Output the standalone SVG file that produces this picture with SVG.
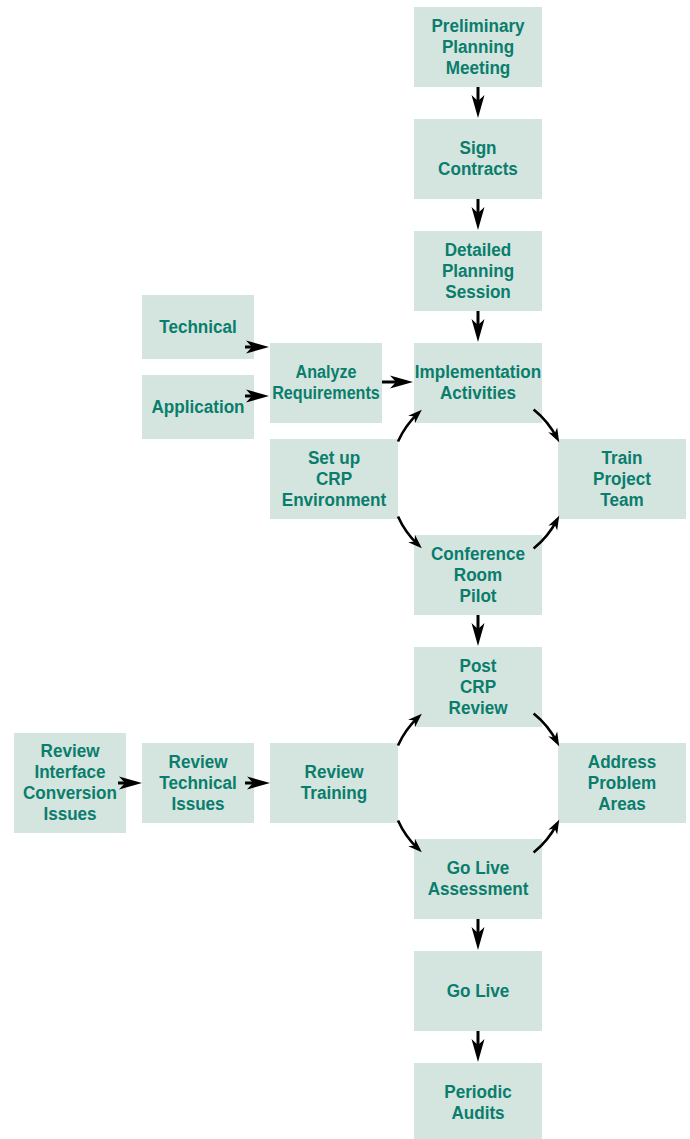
<svg xmlns="http://www.w3.org/2000/svg" width="690" height="1139" viewBox="0 0 690 1139">
<style>
.b{fill:#d4e5df;stroke:none}
.t{font-family:"Liberation Sans",Arial,sans-serif;font-weight:bold;font-size:19px;fill:#0a7d6c;text-anchor:middle}
.s{fill:none;stroke:#000;stroke-width:3}
.c{fill:none;stroke:#000;stroke-width:2.6}
</style>
<defs>
<marker id="ah" markerUnits="userSpaceOnUse" markerWidth="24" markerHeight="14" viewBox="0 0 24 14" refX="10" refY="7" orient="auto">
<path d="M0,0.5 L23,7 L0,13.5 L6,7 z" fill="#000"/>
</marker>
<marker id="ac" markerUnits="userSpaceOnUse" markerWidth="15" markerHeight="11" viewBox="0 0 15 11" refX="9" refY="5.5" orient="auto">
<path d="M0,0.5 L14,5.5 L0,10.5 L4,5.5 z" fill="#000"/>
</marker>
</defs>
<g id="n1"><rect class="b" x="414" y="7" width="128" height="80"/><text class="t" transform="translate(478,0) scale(0.9,1)"><tspan x="0" y="32">Preliminary</tspan><tspan x="0" y="53">Planning</tspan><tspan x="0" y="74">Meeting</tspan></text></g>
<g id="n2"><rect class="b" x="414" y="119" width="128" height="80"/><text class="t" transform="translate(478,0) scale(0.9,1)"><tspan x="0" y="154.5">Sign</tspan><tspan x="0" y="175.5">Contracts</tspan></text></g>
<g id="n3"><rect class="b" x="414" y="231" width="128" height="80"/><text class="t" transform="translate(478,0) scale(0.9,1)"><tspan x="0" y="256">Detailed</tspan><tspan x="0" y="277">Planning</tspan><tspan x="0" y="298">Session</tspan></text></g>
<g id="n4"><rect class="b" x="414" y="343" width="128" height="80"/><text class="t" transform="translate(478,0) scale(0.9,1)"><tspan x="0" y="378.5">Implementation</tspan><tspan x="0" y="399.5">Activities</tspan></text></g>
<g id="n5"><rect class="b" x="558" y="439" width="128" height="80"/><text class="t" transform="translate(622,0) scale(0.9,1)"><tspan x="0" y="464">Train</tspan><tspan x="0" y="485">Project</tspan><tspan x="0" y="506">Team</tspan></text></g>
<g id="n6"><rect class="b" x="270" y="439" width="128" height="80"/><text class="t" transform="translate(334,0) scale(0.9,1)"><tspan x="0" y="464">Set up</tspan><tspan x="0" y="485">CRP</tspan><tspan x="0" y="506">Environment</tspan></text></g>
<g id="n7"><rect class="b" x="414" y="535" width="128" height="80"/><text class="t" transform="translate(478,0) scale(0.9,1)"><tspan x="0" y="560">Conference</tspan><tspan x="0" y="581">Room</tspan><tspan x="0" y="602">Pilot</tspan></text></g>
<g id="n8"><rect class="b" x="414" y="647" width="128" height="80"/><text class="t" transform="translate(478,0) scale(0.9,1)"><tspan x="0" y="672">Post</tspan><tspan x="0" y="693">CRP</tspan><tspan x="0" y="714">Review</tspan></text></g>
<g id="n9"><rect class="b" x="558" y="743" width="128" height="80"/><text class="t" transform="translate(622,0) scale(0.9,1)"><tspan x="0" y="768">Address</tspan><tspan x="0" y="789">Problem</tspan><tspan x="0" y="810">Areas</tspan></text></g>
<g id="n10"><rect class="b" x="270" y="743" width="128" height="80"/><text class="t" transform="translate(334,0) scale(0.9,1)"><tspan x="0" y="778.5">Review</tspan><tspan x="0" y="799.5">Training</tspan></text></g>
<g id="n11"><rect class="b" x="414" y="839" width="128" height="80"/><text class="t" transform="translate(478,0) scale(0.9,1)"><tspan x="0" y="874.5">Go Live</tspan><tspan x="0" y="895.5">Assessment</tspan></text></g>
<g id="n12"><rect class="b" x="414" y="951" width="128" height="80"/><text class="t" transform="translate(478,0) scale(0.9,1)"><tspan x="0" y="997">Go Live</tspan></text></g>
<g id="n13"><rect class="b" x="414" y="1063" width="128" height="80"/><text class="t" transform="translate(478,0) scale(0.9,1)"><tspan x="0" y="1098.5">Periodic</tspan><tspan x="0" y="1119.5">Audits</tspan></text></g>
<g id="n14"><rect class="b" x="142" y="295" width="112" height="64"/><text class="t" transform="translate(198,0) scale(0.9,1)"><tspan x="0" y="333">Technical</tspan></text></g>
<g id="n15"><rect class="b" x="142" y="375" width="112" height="64"/><text class="t" transform="translate(198,0) scale(0.9,1)"><tspan x="0" y="413">Application</tspan></text></g>
<g id="n16"><rect class="b" x="270" y="343" width="112" height="80"/><text class="t" transform="translate(326,0) scale(0.85,1)"><tspan x="0" y="378.5">Analyze</tspan><tspan x="0" y="399.5">Requirements</tspan></text></g>
<g id="n17"><rect class="b" x="142" y="743" width="112" height="80"/><text class="t" transform="translate(198,0) scale(0.9,1)"><tspan x="0" y="768">Review</tspan><tspan x="0" y="789">Technical</tspan><tspan x="0" y="810">Issues</tspan></text></g>
<g id="n18"><rect class="b" x="14" y="733" width="112" height="100"/><text class="t" transform="translate(70,0) scale(0.9,1)"><tspan x="0" y="757.5">Review</tspan><tspan x="0" y="778.5">Interface</tspan><tspan x="0" y="799.5">Conversion</tspan><tspan x="0" y="820.5">Issues</tspan></text></g>
<g id="connectors">
<path class="s" d="M478,87 L478,105" marker-end="url(#ah)"/>
<path class="s" d="M478,199 L478,217" marker-end="url(#ah)"/>
<path class="s" d="M478,311 L478,329" marker-end="url(#ah)"/>
<path class="s" d="M478,615 L478,633" marker-end="url(#ah)"/>
<path class="s" d="M478,919 L478,937" marker-end="url(#ah)"/>
<path class="s" d="M478,1031 L478,1049" marker-end="url(#ah)"/>
<path class="s" d="M245,347 L256,347" marker-end="url(#ah)"/>
<path class="s" d="M245,396 L256,396" marker-end="url(#ah)"/>
<path class="s" d="M382,382 L400,382" marker-end="url(#ah)"/>
<path class="s" d="M118,783 L129,783" marker-end="url(#ah)"/>
<path class="s" d="M245,783 L257,783" marker-end="url(#ah)"/>
<path class="c" d="M398,441.5 A89,89 0 0 1 418.2,413.1" marker-end="url(#ac)"/>
<path class="c" d="M533.6,409.5 A89,89 0 0 1 556.9,437.9" marker-end="url(#ac)"/>
<path class="c" d="M398,516.5 A89,89 0 0 0 418.2,544.9" marker-end="url(#ac)"/>
<path class="c" d="M533.6,548.5 A89,89 0 0 0 556.9,520.1" marker-end="url(#ac)"/>
<path class="c" d="M398,745.5 A89,89 0 0 1 418.2,717.1" marker-end="url(#ac)"/>
<path class="c" d="M533.6,713.5 A89,89 0 0 1 556.9,741.9" marker-end="url(#ac)"/>
<path class="c" d="M398,820.5 A89,89 0 0 0 418.2,848.9" marker-end="url(#ac)"/>
<path class="c" d="M533.6,852.5 A89,89 0 0 0 556.9,824.1" marker-end="url(#ac)"/>
</g>
</svg>
